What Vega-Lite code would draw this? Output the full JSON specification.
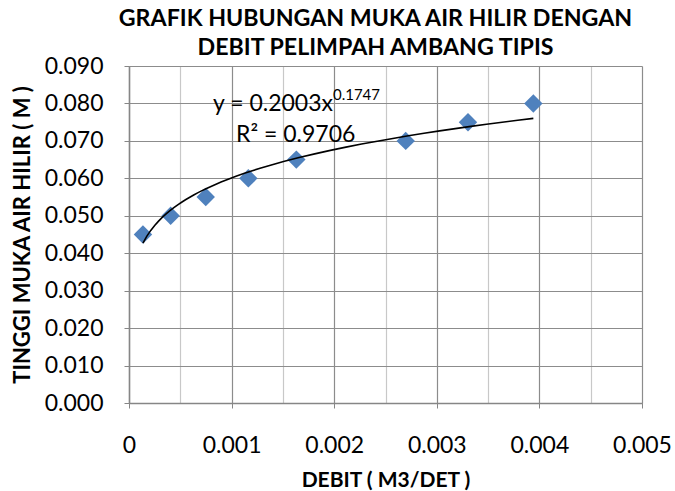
{
  "$schema": "https://vega.github.io/schema/vega-lite/v6.json",
  "width": 513,
  "height": 337,
  "autosize": {"type": "none"},
  "padding": {"left": 129, "top": 66, "right": 33, "bottom": 88},
  "background": "white",
  "config": {
    "font": "Lato",
    "view": {"stroke": null},
    "title": {"font": "Lato", "fontWeight": "bold", "fontSize": 23.2, "color": "#000000"}
  },
  "title": {
    "text": ["GRAFIK HUBUNGAN MUKA AIR HILIR DENGAN", "DEBIT PELIMPAH AMBANG TIPIS"],
    "anchor": "middle",
    "dx": -10,
    "dy": 5,
    "offset": 0,
    "lineHeight": 29
  },
  "data": {
    "values": [
      {"debit": 0.000136, "tinggi": 0.045},
      {"debit": 0.000406, "tinggi": 0.050},
      {"debit": 0.000748, "tinggi": 0.055},
      {"debit": 0.001163, "tinggi": 0.060},
      {"debit": 0.001631, "tinggi": 0.065},
      {"debit": 0.002697, "tinggi": 0.070},
      {"debit": 0.003304, "tinggi": 0.075},
      {"debit": 0.003941, "tinggi": 0.080}
    ]
  },
  "encoding": {
    "x": {
      "field": "debit", "type": "quantitative",
      "scale": {"domain": [0, 0.005], "nice": false, "zero": true},
      "axis": {
        "title": "DEBIT ( M3/DET )",
        "titleFont": "Lato", "titleFontWeight": "bold", "titleFontSize": 21, "titleColor": "#000000",
        "titlePadding": 12,
        "tickCount": 30,
        "values": [0, 0.0005, 0.001, 0.0015, 0.002, 0.0025, 0.003, 0.0035, 0.004, 0.0045, 0.005],
        "labelExpr": "round(datum.value*10000) % 10 != 0 ? '' : (datum.value == 0 ? '0' : format(datum.value, '.3f'))",
        "labelFont": "Lato", "labelFontSize": 23, "labelColor": "#000000",
        "labelPadding": 26, "labelBaseline": "top", "labelFlush": false, "labelOverlap": false,
        "tickSize": 5, "tickColor": "#868686",
        "tickOpacity": {"condition": {"test": "round(datum.value*10000) % 10 != 0", "value": 0}, "value": 1},
        "domainColor": "#868686", "domainWidth": 1.5,
        "grid": true,
        "gridColor": {"condition": {"test": "round(datum.value*10000) % 10 != 0", "value": "#c8c8c8"}, "value": "#8c8c8c"},
        "gridWidth": 1.2
      }
    },
    "y": {
      "field": "tinggi", "type": "quantitative",
      "scale": {"domain": [0, 0.09], "nice": false},
      "axis": {
        "title": "TINGGI MUKA AIR HILIR ( M )",
        "titleFont": "Lato", "titleFontWeight": "bold", "titleFontSize": 22, "titleColor": "#000000",
        "titlePadding": 10,
        "tickCount": 30,
        "values": [0, 0.01, 0.02, 0.03, 0.04, 0.05, 0.06, 0.07, 0.08, 0.09],
        "format": ".3f",
        "labelFont": "Lato", "labelFontSize": 23, "labelColor": "#000000",
        "labelPadding": 21, "labelFlush": false, "labelOverlap": false,
        "tickSize": 5, "tickColor": "#868686",
        "domainColor": "#868686", "domainWidth": 1.5,
        "grid": true, "gridColor": "#8c8c8c", "gridWidth": 1.2
      }
    }
  },
  "layer": [
    {
      "mark": {"type": "point", "shape": "diamond", "filled": true, "size": 340, "color": "#4F81BD", "opacity": 1}
    },
    {
      "transform": [{"regression": "tinggi", "on": "debit", "method": "pow"}],
      "mark": {"type": "line", "color": "#000000", "strokeWidth": 1.6}
    },
    {
      "data": {"values": [{"label": "y = 0.2003x", "lx": 0.001988, "ly": 0.0780}]},
      "mark": {"type": "text", "align": "right", "baseline": "alphabetic", "fontSize": 23, "font": "Lato", "color": "#000000"},
      "encoding": {
        "x": {"field": "lx", "type": "quantitative"},
        "y": {"field": "ly", "type": "quantitative"},
        "text": {"field": "label"}
      }
    },
    {
      "data": {"values": [{"label": "0.1747", "lx": 0.001988, "ly": 0.0808}]},
      "mark": {"type": "text", "align": "left", "baseline": "alphabetic", "fontSize": 15, "font": "Lato", "color": "#000000"},
      "encoding": {
        "x": {"field": "lx", "type": "quantitative"},
        "y": {"field": "ly", "type": "quantitative"},
        "text": {"field": "label"}
      }
    },
    {
      "data": {"values": [{"label": "R² = 0.9706", "lx": 0.001043, "ly": 0.0697}]},
      "mark": {"type": "text", "align": "left", "baseline": "alphabetic", "fontSize": 23, "font": "Lato", "color": "#000000"},
      "encoding": {
        "x": {"field": "lx", "type": "quantitative"},
        "y": {"field": "ly", "type": "quantitative"},
        "text": {"field": "label"}
      }
    }
  ]
}
